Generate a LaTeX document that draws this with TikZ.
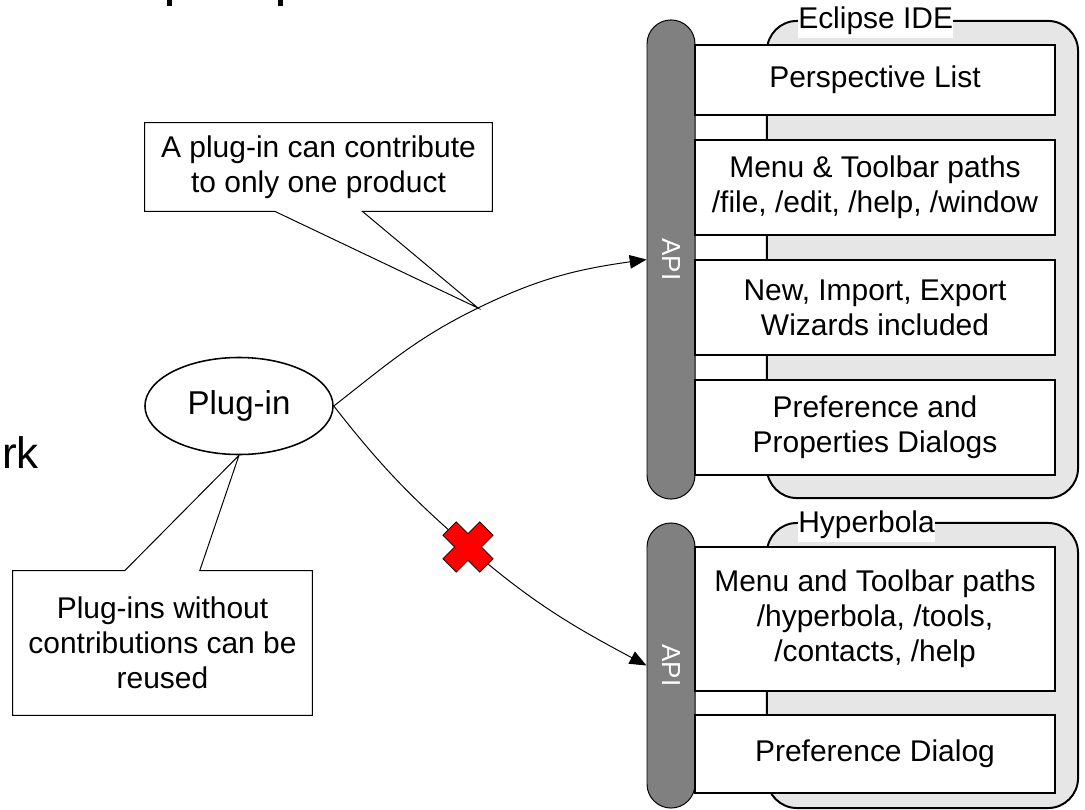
\documentclass[tikz,border=0pt]{standalone}
\usepackage{fontspec}
\setmainfont{Liberation Sans}
\usetikzlibrary{shapes,arrows.meta,positioning}
\definecolor{mgray}{HTML}{808080}
\definecolor{lgray}{HTML}{E6E6E6}
\definecolor{mred}{HTML}{FF0000}
\newcommand{\txt}{\fontsize{21.3}{24.9}\selectfont}
\newcommand{\apitxt}{\fontsize{18.5}{21}\selectfont}
\tikzstyle{l1}=[line width=0.7pt]
\tikzstyle{l2}=[line width=1.4pt]
\tikzstyle{box}=[rectangle, draw=black, l2, fill=white, minimum width=9cm, inner sep=0pt, align=center, font=\txt]
\tikzstyle{bar}=[rectangle, rounded corners=0.6cm, draw=black, l1, fill=mgray, minimum width=1.2cm, inner sep=0pt]
\tikzstyle{cont}=[rectangle, rounded corners=0.75cm, draw=black, l2, fill=lgray, minimum width=7.775cm, inner sep=0pt]
\tikzstyle{tag}=[fill=white, inner xsep=0pt, inner ysep=0.1cm, anchor=base west, font=\txt]
\tikzstyle{note}=[rectangle, inner sep=0pt, align=center, font=\txt]
\tikzstyle{call}=[draw=black, l1]
\tikzstyle{conn}=[l1, -{Triangle[length=0.42cm, width=0.34cm]}]
\tikzstyle{cross}=[draw=black, line width=0.5pt, fill=mred]

\begin{document}
\begin{tikzpicture}[x=0.025cm, y=-0.025cm]
    \useasboundingbox (0,0) rectangle (1085,809);

    \fill (167,0) rectangle (172,6);
    \fill (278,0) rectangle (283,6);
    \node (rk) [anchor=base west, inner sep=0pt, font=\fontsize{31.3}{36}\selectfont] at (2,468) {rk};

    \node (api1) [bar, minimum height=11.975cm] at (671,259.5) {};
    \node (api2) [bar, minimum height=7.125cm] at (671,665.5) {};
    \node (api1t) [rotate=-90, text=white, font=\apitxt] at (api1) {API};
    \node (api2t) [rotate=-90, text=white, font=\apitxt] at (api2) {API};

    \node (eclipse) [cont, minimum height=11.925cm] at (922.5,259.5) {};
    \node (hyper) [cont, minimum height=7.125cm] at (922.5,665.5) {};
    \node (eclipset) [tag] at (798,28) {Eclipse IDE};
    \node (hypert) [tag] at (798,532) {Hyperbola};

    \node (persp) [box, minimum height=1.75cm] at (875,80) {Perspective List};
    \node (menu) [box, minimum height=2.375cm] at (875,187.5) {Menu \& Toolbar paths\\/file, /edit, /help, /window};
    \node (wiz) [box, minimum height=2.375cm] at (875,307.5) {New, Import, Export\\Wizards included};
    \node (pref) [box, minimum height=2.375cm] at (875,427.5) {Preference and\\Properties Dialogs};
    \node (hmenu) [box, minimum height=3.6cm] at (875,619) {Menu and Toolbar paths\\/hyperbola, /tools,\\/contacts, /help};
    \node (hpref) [box, minimum height=1.95cm] at (875,754) {Preference Dialog};

    \node (plugin) [ellipse, draw=black, line width=1.1pt, minimum width=4.7cm, minimum height=2.425cm, inner sep=0pt, font=\fontsize{23.5}{27}\selectfont] at (239,406) {Plug-in};

    \coordinate (tip1) at (478,308);
    \coordinate (xmark) at (468,547);
    \draw[conn] (plugin.east) to[out=38, in=206] (tip1) to[out=26, in=188] (api1.west);
    \draw[conn] (plugin.east) to[out=-52, in=139] (xmark) to[out=-41, in=152] (api2.west);

    \begin{scope}[shift={(xmark)}, rotate=45]
    \draw[cross] (0.235cm,0.235cm) -- (0.65cm,0.235cm) -- (0.65cm,-0.235cm) -- (0.235cm,-0.235cm)
      -- (0.235cm,-0.65cm) -- (-0.235cm,-0.65cm) -- (-0.235cm,-0.235cm) -- (-0.65cm,-0.235cm)
      -- (-0.65cm,0.235cm) -- (-0.235cm,0.235cm) -- (-0.235cm,0.65cm) -- (0.235cm,0.65cm) -- cycle;
    \end{scope}

    \node (note1) [note, minimum width=8.675cm, minimum height=2.2cm] at (318.5,167) {A plug-in can contribute\\to only one product};
    \draw[call] (note1.north west) -- (note1.north east) -- (note1.south east) -- ([xshift=-3.25cm]note1.south east)
      -- (tip1) -- ([xshift=3.25cm]note1.south west) -- (note1.south west) -- cycle;

    \node (note2) [note, minimum width=7.475cm, minimum height=3.6cm] at (162.5,643) {Plug-ins without\\contributions can be\\reused};
    \draw[call] (note2.south west) -- (note2.north west) -- ([xshift=2.8cm]note2.north west) -- (plugin.south)
      -- ([xshift=4.675cm]note2.north west) -- (note2.north east) -- (note2.south east) -- cycle;
\end{tikzpicture}
\end{document}
